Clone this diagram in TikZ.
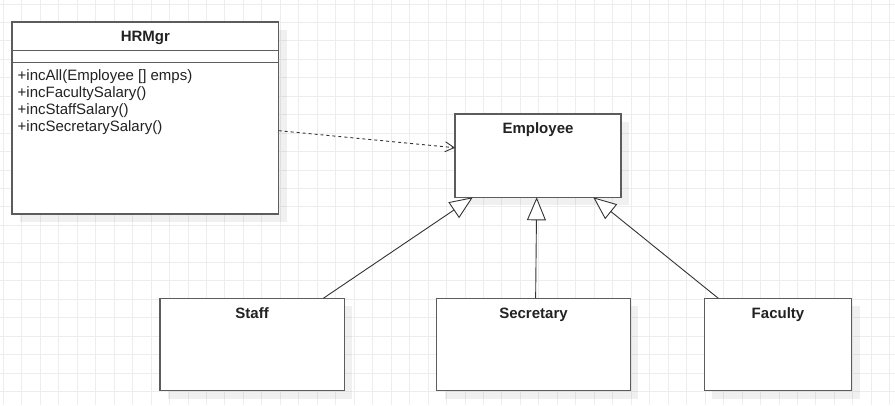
\documentclass[tikz,border=0pt]{standalone}
\usepackage{fontspec}
\setmainfont{Liberation Sans}
\usetikzlibrary{arrows.meta,shadows,calc}
\definecolor{gridc}{HTML}{EDEDED}
\definecolor{boxline}{HTML}{5C5C5C}
\definecolor{ink}{HTML}{222222}
\definecolor{conn}{HTML}{333333}

\begin{document}
\begin{tikzpicture}[x=1pt,y=-1pt,
  umlbox/.style={draw=boxline, line width=1.3pt, fill=white, inner sep=0pt, outer sep=0pt,
    anchor=north west,
    drop shadow={shadow xshift=8pt, shadow yshift=-8pt, fill=black, opacity=0.06}},
  sepline/.style={draw=boxline, line width=1.3pt},
  ttl/.style={font=\bfseries\fontsize{15}{17}\selectfont, text=ink, inner sep=0pt, anchor=base},
  member/.style={font=\fontsize{15}{17}\selectfont, text=ink, inner sep=0pt, anchor=base west},
  inh/.style={draw=conn, line width=0.9pt, -{Triangle[length=23pt, width=19pt, fill=white]}},
  dep/.style={draw=conn, line width=0.9pt, dash pattern=on 3pt off 3pt,
    -{Straight Barb[length=9pt, width=10pt]}},
  gridline/.style={draw=gridc, line width=1pt}
]
% canvas and background grid
\fill[white] (0,0) rectangle (895,405);
\useasboundingbox (0,0) rectangle (895,405);
\foreach \i in {0,...,48} {
  \draw[gridline] ({3.3+18.47*\i},0) -- ({3.3+18.47*\i},405);
}
\foreach \j in {0,...,21} {
  \draw[gridline] (0,{4+18.45*\j}) -- (895,{4+18.45*\j});
}

% class boxes
\node[umlbox, minimum width=266.7pt, minimum height=192pt] (hr) at (12,22) {};
\node[umlbox, minimum width=166pt, minimum height=83.3pt] (emp) at (455,114) {};
\node[umlbox, minimum width=184.3pt, minimum height=92.4pt] (staff) at (160,298.3) {};
\node[umlbox, minimum width=193.6pt, minimum height=92.4pt] (sec) at (436.7,298.3) {};
\node[umlbox, minimum width=147.4pt, minimum height=92.4pt] (fac) at (704.3,298.3) {};

% HRMgr compartments
\draw[sepline] ($(hr.north west)+(0,28.7)$) -- ($(hr.north east)+(0,28.7)$);
\draw[sepline] ($(hr.north west)+(0,40.3)$) -- ($(hr.north east)+(0,40.3)$);

% class names
\node[ttl] (hrT) at ($(hr.north)+(0,19.7)$) {HRMgr};
\node[ttl] (empT) at ($(emp.north)+(0,19.5)$) {Employee};
\node[ttl] (staffT) at ($(staff.north)+(0,20.5)$) {Staff};
\node[ttl] (secT) at ($(sec.north)+(0,20.5)$) {Secretary};
\node[ttl] (facT) at ($(fac.north)+(0,20.5)$) {Faculty};

% HRMgr operations
\node[member] (m1) at (17.5,80) {+incAll(Employee [] emps)};
\node[member] (m2) at (17.5,97) {+incFacultySalary()};
\node[member] (m3) at (17.5,114) {+incStaffSalary()};
\node[member] (m4) at (17.5,131) {+incSecretarySalary()};

% dependency
\draw[dep] ($(hr.north east)!0.566!(hr.south east)$) -- ($(emp.north west)!0.405!(emp.south west)$);

% generalisations
\draw[inh] ($(staff.north west)!0.886!(staff.north east)$) -- ($(emp.south west)!0.107!(emp.south east)$);
\draw[inh] ($(sec.north west)!0.511!(sec.north east)$) -- ($(emp.south west)!0.492!(emp.south east)$);
\draw[inh] ($(fac.north west)!0.095!(fac.north east)$) -- ($(emp.south west)!0.833!(emp.south east)$);
\end{tikzpicture}
\end{document}
